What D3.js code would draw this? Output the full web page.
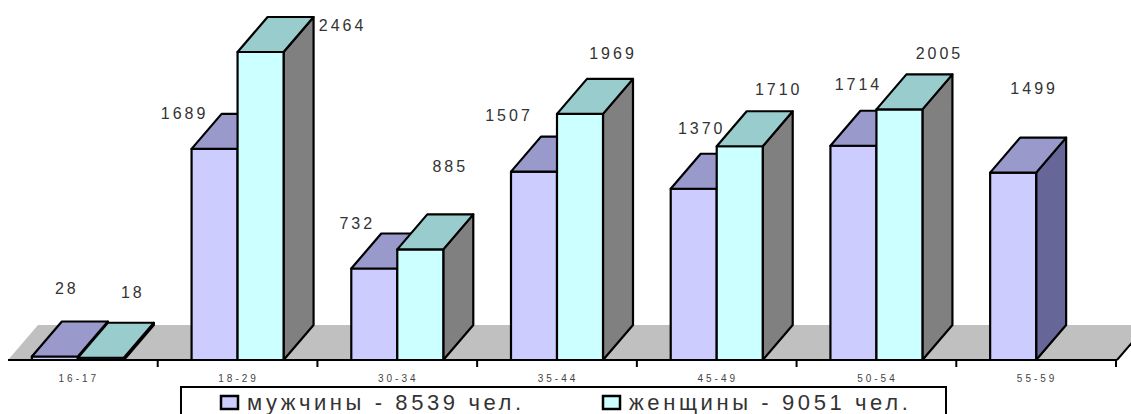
<!DOCTYPE html>
<html>
<head>
<meta charset="utf-8">
<script src="https://cdn.jsdelivr.net/npm/d3@7"></script>
<style>
  html, body { margin: 0; padding: 0; background: #fff; }
  svg { display: block; font-family: "Liberation Sans", Arial, sans-serif; }
</style>
</head>
<body>
<div id="chart"></div>
<script>
const categories = ["16-17", "18-29", "30-34", "35-44", "45-49", "50-54", "55-59"];
const men   = [28, 1689, 732, 1507, 1370, 1714, 1499];
const women = [18, 2464, 885, 1969, 1710, 2005, null];
const legendLabels = ["мужчины - 8539 чел.", "женщины - 9051 чел."];

// label nudges (Excel put the 3d labels a bit all over the place)
const menLabelShift   = [[-18, -33], [-60, 0], [-47, -10], [-55, -21], [-22, -25], [-25, -26], [-9, -49]];
const womenLabelShift = [[2, -30], [52, 8], [0, -48], [3, -25], [9, -22], [10, -21], [0, 0]];

const W = 1131, H = 414;
const depth = { dx: 30, dy: -35 };

const svg = d3.select("#chart").append("svg")
  .attr("width", W).attr("height", H);

svg.append("rect").attr("width", W).attr("height", H).attr("fill", "#fff");

const x = d3.scaleBand().domain(categories).range([-2, 1116]).padding(0);
const y = d3.scaleLinear().domain([0, 2880]).range([360, 0]);

const step = x.bandwidth();
const barW = step * 0.288;
const inset = (step - 2 * barW) / 2;
const base = y(0);

// Floor
const fx0 = x.range()[0] + 10, fx1 = x.range()[1] + 1;
svg.append("path")
  .attr("d", `M${fx0},${base} L${fx1},${base} L${fx1 + depth.dx},${base + depth.dy} L${fx0 + depth.dx},${base + depth.dy} Z`)
  .attr("fill", "#c0c0c0");

// axis line + right edge of floor
svg.append("line")
  .attr("x1", fx0).attr("x2", fx1).attr("y1", base).attr("y2", base)
  .attr("stroke", "#000").attr("stroke-width", 2);
svg.append("line")
  .attr("x1", fx1).attr("x2", fx1 + depth.dx * 0.55)
  .attr("y1", base).attr("y2", base + depth.dy * 0.55)
  .attr("stroke", "#000").attr("stroke-width", 2);

// ticks between categories
svg.append("g")
  .selectAll("line")
  .data(categories)
  .join("line")
  .attr("x1", (d) => x(d) + step).attr("x2", (d) => x(d) + step)
  .attr("y1", base).attr("y2", base + 7)
  .attr("stroke", "#000").attr("stroke-width", 2);

// Category labels
svg.append("g")
  .selectAll("text")
  .data(categories)
  .join("text")
  .attr("x", (d) => x(d) + step / 2 + 1)
  .attr("y", 382)
  .attr("text-anchor", "middle")
  .attr("font-size", "10px")
  .attr("letter-spacing", "3px")
  .attr("fill", "#444")
  .text((d) => d);

function drawBar(g, x0, v, col) {
  const top = y(v);
  const { dx, dy } = depth;
  const style = (p) => p.attr("stroke", "#000").attr("stroke-width", 2.2).attr("stroke-linejoin", "round");
  // side
  g.append("path")
    .attr("d", `M${x0 + barW},${base} L${x0 + barW + dx},${base + dy} L${x0 + barW + dx},${top + dy} L${x0 + barW},${top} Z`)
    .attr("fill", col.side).call(style);
  // front
  g.append("path")
    .attr("d", `M${x0},${base} L${x0 + barW},${base} L${x0 + barW},${top} L${x0},${top} Z`)
    .attr("fill", col.front).call(style);
  // top
  g.append("path")
    .attr("d", `M${x0},${top} L${x0 + barW},${top} L${x0 + barW + dx},${top + dy} L${x0 + dx},${top + dy} Z`)
    .attr("fill", col.top).call(style);
}

const menCol   = { front: "#ccccff", top: "#9999cc", side: "#666699" };
const womenCol = { front: "#ccffff", top: "#99cccc", side: "#808080" };

const bars = svg.append("g");
const labels = [];
categories.forEach((c, i) => {
  const mx = x(c) + inset;
  const wx = mx + barW;
  drawBar(bars.append("g"), mx, men[i], menCol);
  labels.push({ v: men[i], x: mx + barW / 2 + depth.dx + menLabelShift[i][0], y: y(men[i]) + depth.dy + menLabelShift[i][1] });
  if (women[i] != null) {
    drawBar(bars.append("g"), wx, women[i], womenCol);
    labels.push({ v: women[i], x: wx + barW / 2 + depth.dx + womenLabelShift[i][0], y: y(women[i]) + depth.dy + womenLabelShift[i][1] });
  }
});

svg.append("g")
  .selectAll("text")
  .data(labels)
  .join("text")
  .attr("x", (d) => d.x).attr("y", (d) => d.y)
  .attr("dy", "0.35em")
  .attr("text-anchor", "middle")
  .attr("font-size", "16px")
  .attr("letter-spacing", "3px")
  .attr("fill", "#333")
  .text((d) => d.v);

// Legend
const legend = svg.append("g");
legend.append("rect")
  .attr("x", 181).attr("y", 387).attr("width", 765).attr("height", 40)
  .attr("fill", "#fff").attr("stroke", "#000").attr("stroke-width", 2);

const legendX = [221, 603];
[menCol, womenCol].forEach((col, i) => {
  legend.append("rect")
    .attr("x", legendX[i]).attr("y", 396).attr("width", 17).attr("height", 13)
    .attr("fill", col.front).attr("stroke", "#000").attr("stroke-width", 2.5);
  legend.append("text")
    .attr("x", legendX[i] + 26).attr("y", 410)
    .attr("font-size", "22px")
    .attr("letter-spacing", "3.6px")
    .attr("fill", "#333")
    .text(legendLabels[i]);
});
</script>
</body>
</html>
